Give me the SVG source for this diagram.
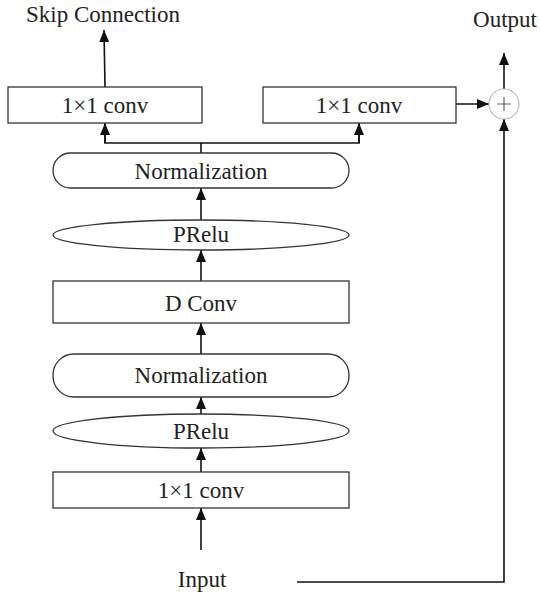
<svg xmlns="http://www.w3.org/2000/svg" width="540" height="593" viewBox="0 0 540 593">
<defs>
<marker id="ah" markerUnits="userSpaceOnUse" markerWidth="12" markerHeight="10" refX="12" refY="5" orient="auto">
<path d="M0,0 L12,5 L0,10 z" fill="#111"/>
</marker>
<style>
.box{fill:#fff;stroke:#333;stroke-width:1.3}
.lbl{font-size:23px;fill:#222;text-anchor:middle}
.ln{fill:none;stroke:#111;stroke-width:1.6}
</style>
</defs>
<rect width="540" height="593" fill="#fff"/>
<g id="connectors">
<line class="ln" x1="201" y1="550" x2="201" y2="508" marker-end="url(#ah)"/>
<line class="ln" x1="201" y1="472" x2="201" y2="448" marker-end="url(#ah)"/>
<line class="ln" x1="201" y1="414" x2="201" y2="397" marker-end="url(#ah)"/>
<line class="ln" x1="201" y1="354" x2="201" y2="323" marker-end="url(#ah)"/>
<line class="ln" x1="201" y1="281" x2="201" y2="250" marker-end="url(#ah)"/>
<line class="ln" x1="201" y1="220" x2="201" y2="188" marker-end="url(#ah)"/>
<polyline class="ln" points="201,153 201,143"/>
<polyline class="ln" points="105,123 105,143 359,143 359,123"/>
<line class="ln" x1="105" y1="143" x2="105" y2="123" marker-end="url(#ah)"/>
<line class="ln" x1="359" y1="143" x2="359" y2="123" marker-end="url(#ah)"/>
<line class="ln" x1="105" y1="87" x2="104" y2="30" marker-end="url(#ah)"/>
<line class="ln" x1="456" y1="104" x2="489" y2="104" marker-end="url(#ah)"/>
<line class="ln" x1="504" y1="89" x2="504" y2="53" marker-end="url(#ah)"/>
<polyline class="ln" points="297,582 504,582 504,119" marker-end="url(#ah)"/>
</g>
<g font-family="'Liberation Serif', 'DejaVu Serif', 'Times New Roman', serif">
<g id="skip-label"><text class="lbl" x="103" y="22">Skip Connection</text></g>
<g id="output-label"><text class="lbl" x="505" y="27">Output</text></g>
<g id="conv-skip"><rect class="box" x="8" y="87" width="194" height="36"/><text class="lbl" x="105" y="113">1×1 conv</text></g>
<g id="conv-out"><rect class="box" x="263" y="87" width="193" height="36"/><text class="lbl" x="359" y="113">1×1 conv</text></g>
<g id="sum"><circle cx="504" cy="104" r="15" fill="#fff" stroke="#bbb" stroke-width="1.2"/><path d="M497,104 H511 M504,97 V111" stroke="#666" stroke-width="1.2"/></g>
<g id="norm1"><rect class="box" x="53" y="153" width="296" height="35" rx="17.5"/><text class="lbl" x="201" y="179">Normalization</text></g>
<g id="prelu1"><ellipse class="box" cx="201" cy="235" rx="148" ry="15"/><text class="lbl" x="201" y="242">PRelu</text></g>
<g id="dconv"><rect class="box" x="53" y="281" width="296" height="42"/><text class="lbl" x="201" y="311">D Conv</text></g>
<g id="norm2"><rect class="box" x="53" y="354" width="296" height="43" rx="21"/><text class="lbl" x="201" y="383">Normalization</text></g>
<g id="prelu2"><ellipse class="box" cx="201" cy="431" rx="148" ry="17"/><text class="lbl" x="201" y="439">PRelu</text></g>
<g id="conv-in"><rect class="box" x="53" y="472" width="296" height="36"/><text class="lbl" x="201" y="498">1×1 conv</text></g>
<g id="input-label"><text class="lbl" x="202" y="587">Input</text></g>
</g>
</svg>
